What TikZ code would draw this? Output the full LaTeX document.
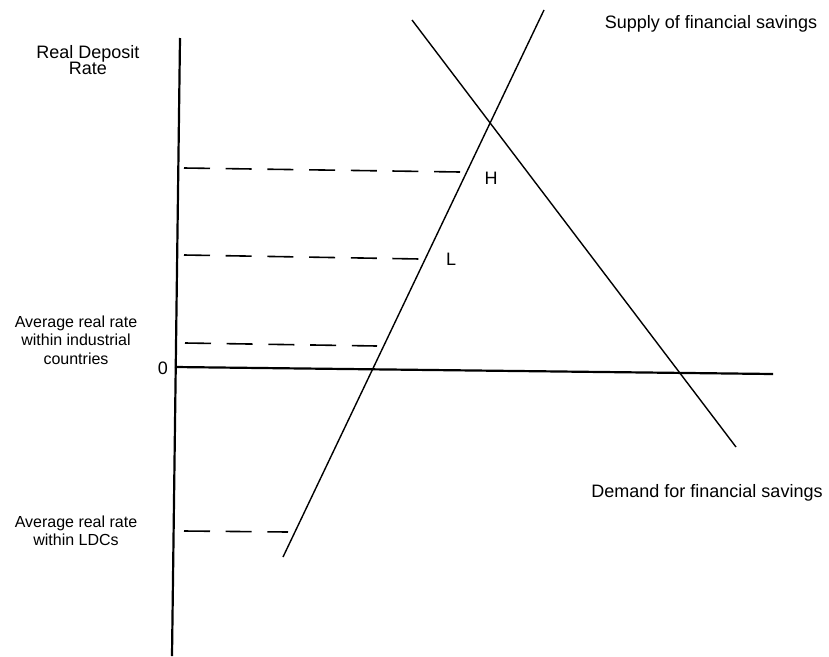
\documentclass[tikz,border=0pt]{standalone}
\usepackage{fontspec}
\setmainfont{Liberation Sans}
\begin{document}
\begin{tikzpicture}[x=1pt,y=-1pt,
  axis/.style={line width=2.2pt},
  curve/.style={line width=1.4pt},
  guide/.style={line width=1.6pt, dash pattern=on 26pt off 15.7pt},
  lab/.style={font=\fontsize{16}{18.5}\selectfont, align=center, inner sep=0pt},
  big/.style={font=\fontsize{18}{17}\selectfont, align=center, inner sep=0pt}]
\useasboundingbox (0,0) rectangle (829,656);
% axes
\coordinate (ytop) at (180,38);
\coordinate (ybot) at (172,656);
\coordinate (xl) at (175,367);
\coordinate (xr) at (773,374);
\draw[axis] (ytop) -- (ybot);
\draw[axis] (xl) -- (xr);
% supply and demand
\coordinate (s1) at (283,557);
\coordinate (s2) at (544,10);
\coordinate (d1) at (412,20);
\coordinate (d2) at (736,447);
\draw[curve] (s1) -- (s2);
\draw[curve] (d1) -- (d2);
% guides
\coordinate (h1) at (184,168);
\coordinate (h2) at (460,172);
\coordinate (l1) at (184,255);
\coordinate (l2) at (420,259);
\coordinate (i1) at (185,343);
\coordinate (i2) at (377,346);
\coordinate (ld1) at (184,531);
\coordinate (ld2) at (288,532);
\draw[guide] (h1) -- (h2);
\draw[guide] (l1) -- (l2);
\draw[guide] (i1) -- (i2);
\draw[guide] (ld1) -- (ld2);
% labels
\node[big, font=\fontsize{18}{16.5}\selectfont] (yl) at (88,60) {Real Deposit\\Rate};
\node[lab] (ind) at (76,340) {Average real rate\\within industrial\\countries};
\node[lab] (ldc) at (76,531) {Average real rate\\within LDCs};
\node[big] (zero) at (163,368) {0};
\node[big] (H) at (491,178) {H};
\node[big] (L) at (451,259) {L};
\node[big] (sup) at (711,24) {Supply of financial savings};
\node[big] (dem) at (707,493) {Demand for financial savings};
\end{tikzpicture}
\end{document}
